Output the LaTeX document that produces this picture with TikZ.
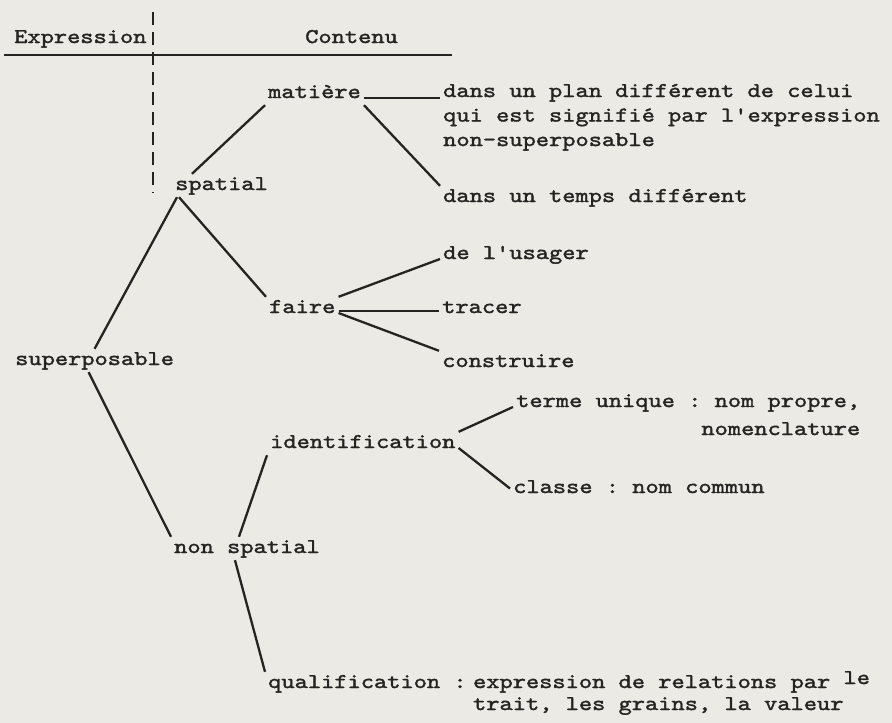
\documentclass[tikz,border=0pt]{standalone}
\usepackage{fontspec}
\setmonofont{lmmono10-regular}[Extension=.otf, FakeStretch=1.2, FakeBold=1.6]
\usepackage{xcolor}
\usepackage{tikz}
\usetikzlibrary{positioning}
\definecolor{papier}{RGB}{236,234,228}
\definecolor{encre}{RGB}{38,36,34}

\begin{document}
\begin{tikzpicture}[x=1pt, y=-1pt,
    mot/.style={anchor=base west, inner sep=3pt, text height=13pt, text depth=4pt,
        font=\ttfamily\fontsize{21}{24.5}\selectfont, text=encre},
    bloc/.style={anchor=base west, inner sep=3pt, align=left,
        font=\ttfamily\fontsize{21}{24.5}\selectfont, text=encre},
    trait/.style={draw=encre, line width=2.3pt}]
    % 1. Fond de page
    \fill[papier] (0,0) rectangle (892,723);

    % 2. En-tête : Expression | Contenu
    \node[mot] (expr) at (11,43) {Expression};
    \node[mot] (cont) at (302,43) {Contenu};
    \draw[encre, line width=2.4pt] (4,55) -- (452,55);
    \draw[encre, line width=2.6pt, dash pattern=on 13pt off 7pt] (153,12) -- (153,193);

    % 3. Les termes (les blocs sont placés sur leur dernière ligne)
    \node[mot] (matiere) at (265,98) {matière};
    \node[bloc] (plan) at (440,146) {dans un plan différent de celui\\qui est signifié par l'expression\\non-superposable};
    \node[mot] (temps) at (440,202) {dans un temps différent};
    \node[mot] (spatial) at (172,190) {spatial};
    \node[mot] (faire) at (266,313) {faire};
    \node[mot] (usager) at (440,259) {de l'usager};
    \node[mot] (tracer) at (439,313) {tracer};
    \node[mot] (construire) at (439,367) {construire};
    \node[mot] (superpos) at (12,365) {superposable};
    \node[mot] (identif) at (267,448) {identification};
    \node[bloc, align=right, font=\ttfamily\fontsize{21}{28}\selectfont] (terme) at (513,435) {terme unique : nom propre,\\nomenclature};
    \node[mot] (classe) at (510,493) {classe : nom commun};
    \node[mot] (nonspatial) at (171,553) {non spatial};
    \node[mot] (qualif) at (265,688) {qualification :};
    \node[bloc, font=\ttfamily\fontsize{21}{22}\selectfont] (relations) at ([yshift=-22pt]qualif.base east) {expression de relations par \raisebox{4pt}{le}\\trait, les grains, la valeur};

    % 4. Les traits
    \draw[trait] (matiere.base east) -- (matiere.base east -| plan.west);
    \draw[trait] (matiere.south east) -- (temps.north west);
    \draw[trait] ([xshift=20pt]spatial.north west) -- (matiere.south west);
    \draw[trait] ([xshift=5pt]spatial.south west) -- (superpos.north);
    \draw[trait] ([xshift=7pt]spatial.south west) -- (faire.north west);
    \draw[trait] (faire.north east) -- (usager.base west);
    \draw[trait] (faire.mid east) -- (tracer.mid west);
    \draw[trait] (faire.base east) -- (construire.north west);
    \draw[trait] ([xshift=-6pt]superpos.south) -- (nonspatial.north west);
    \draw[trait] ([xshift=-8pt]nonspatial.north) -- (identif.south west);
    \draw[trait] ([xshift=-12pt]nonspatial.south) -- (qualif.north west);
    \draw[trait] (identif.north east) -- ([yshift=28pt]terme.base west);
    \draw[trait] (identif.base east) -- (classe.west);
\end{tikzpicture}
\end{document}
